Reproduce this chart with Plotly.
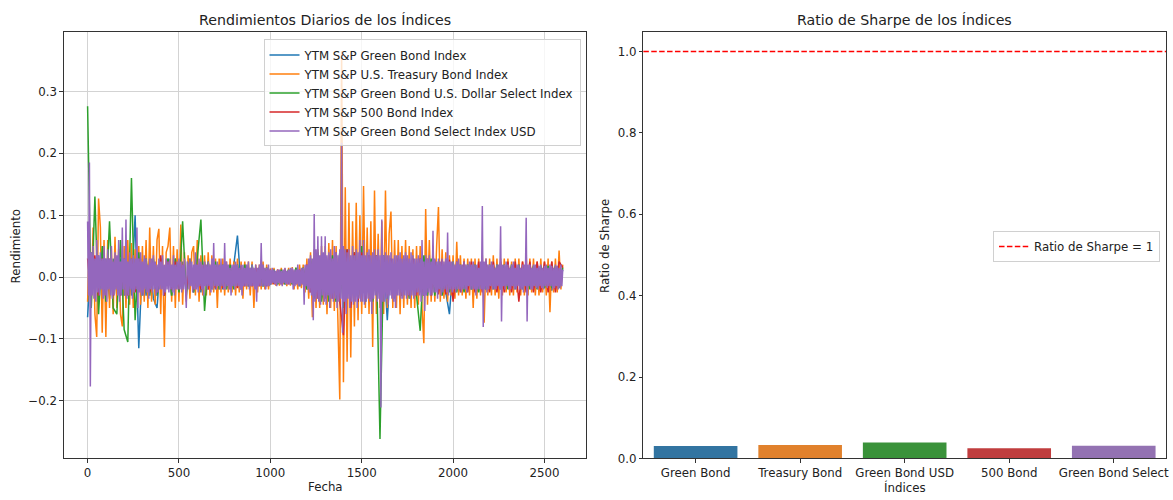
import plotly.graph_objects as go

# ---------------- data ----------------
# day index (sampled) for the daily-return series
DAYS_DENSE = list(range(0, 2601, 5))     # purple
DAYS_FINE = list(range(0, 2601, 10))     # orange
DAYS_COARSE = list(range(0, 2601, 20))   # blue, green, red

SERIES_NAMES = [
    "YTM S&P Green Bond Index",
    "YTM S&P U.S. Treasury Bond Index",
    "YTM S&P Green Bond U.S. Dollar Select Index",
    "YTM S&P 500 Bond Index",
    "YTM S&P Green Bond Select Index USD",
]
SERIES_COLORS = ["#1f77b4", "#ff7f0e", "#2ca02c", "#d62728", "#9467bd"]

green_bond = [
    -0.065, 0.04, -0.03, 0.035, -0.03, 0.03, -0.035, 0.03, -0.03, 0.03,
    -0.03, 0.03, -0.03, 0.1, -0.115, 0.03, -0.03, 0.03, -0.035, -0.05,
    0.03, -0.03, 0.03, -0.03, 0.03, -0.025, 0.025, -0.025, 0.025, -0.025,
    0.025, -0.025, 0.025, -0.02, 0.02, -0.02, 0.02, -0.02, 0.02, -0.02,
    0.02, 0.067, -0.02, 0.02, -0.015, 0.015, -0.015, 0.015, -0.015, 0.015,
    -0.012, 0.012, -0.012, 0.012, -0.012, 0.012, -0.012, 0.012, -0.012, 0.015,
    -0.02, 0.025, -0.03, 0.035, -0.035, 0.035, -0.035, 0.035, -0.04, 0.04,
    -0.045, 0.04, -0.04, 0.035, -0.04, 0.035, -0.035, 0.035, -0.035, 0.035,
    -0.03, 0.03, -0.07, 0.03, -0.03, 0.03, -0.03, 0.025, -0.03, 0.025,
    -0.025, 0.025, -0.025, 0.025, -0.025, 0.025, -0.025, 0.025, -0.025, -0.06,
    0.02, -0.02, 0.02, -0.02, 0.02, -0.02, 0.02, -0.02, 0.02, -0.02,
    0.018, -0.018, 0.018, -0.018, 0.018, -0.018, 0.018, -0.018, 0.018, -0.018,
    0.018, -0.018, 0.018, -0.018, 0.018, -0.018, 0.015, -0.022, 0.015, -0.015,
    0.012,
]

treasury_bond = [
    -0.04, 0.06, -0.05, 0.08, -0.06, -0.097, 0.127, 0.08, -0.09, 0.06,
    -0.097, 0.06, -0.05, 0.05, -0.06, 0.065, -0.05, 0.045, -0.06, -0.08,
    0.05, -0.05, 0.06, -0.045, 0.055, -0.05, 0.045, -0.04, 0.05, -0.045,
    0.05, -0.04, 0.06, -0.05, 0.08, -0.04, 0.05, -0.045, 0.06, 0.078,
    -0.06, 0.05, -0.113, 0.04, 0.05, 0.08, -0.04, 0.05, -0.05, 0.045,
    -0.04, 0.085, -0.045, 0.04, -0.04, 0.035, -0.035, 0.04, 0.05, -0.03,
    0.06, -0.04, 0.035, -0.03, 0.035, -0.03, 0.04, -0.03, 0.035, -0.025,
    0.03, -0.05, 0.03, -0.025, 0.03, -0.03, 0.025, -0.025, 0.03, -0.025,
    0.025, -0.03, 0.03, -0.025, 0.025, -0.035, 0.025, -0.02, 0.025, -0.03,
    0.025, -0.05, 0.02, -0.025, 0.02, -0.02, 0.025, -0.02, 0.02, -0.02,
    0.014, -0.012, 0.015, -0.014, 0.012, -0.014, 0.015, -0.012, 0.014, -0.015,
    0.015, -0.014, 0.016, -0.02, 0.015, -0.02, 0.02, -0.018, 0.02, -0.025,
    0.03, -0.035, 0.04, -0.065, 0.045, -0.05, 0.045, -0.05, 0.05, -0.045,
    0.05, -0.06, 0.055, -0.05, 0.06, -0.055, 0.05, -0.06, -0.198, 0.365,
    -0.17, 0.145, -0.137, 0.12, -0.13, 0.09, -0.08, 0.12, -0.07, 0.1,
    -0.06, 0.147, -0.05, 0.08, -0.06, 0.09, -0.113, 0.14, -0.06, 0.07,
    -0.05, 0.09, -0.06, 0.14, -0.05, 0.07, 0.106, -0.05, 0.06, -0.05,
    0.06, -0.06, 0.05, -0.05, 0.06, -0.045, 0.05, -0.05, 0.045, -0.05,
    0.05, -0.045, 0.05, -0.05, -0.107, 0.11, -0.045, 0.06, -0.04, 0.05,
    -0.04, 0.05, 0.113, -0.04, 0.045, -0.035, 0.04, -0.04, 0.035, -0.03,
    0.035, -0.035, 0.057, -0.03, 0.035, -0.03, 0.03, -0.035, 0.03, -0.03,
    0.03, -0.05, 0.03, -0.035, 0.03, -0.03, 0.035, -0.074, 0.03, -0.03,
    0.03, -0.03, 0.035, -0.03, 0.03, -0.035, 0.03, -0.03, 0.03, -0.025,
    0.03, -0.03, 0.025, -0.03, 0.03, -0.025, 0.03, -0.03, 0.025, -0.03,
    0.035, -0.03, 0.03, -0.025, 0.03, -0.03, 0.025, -0.03, 0.03, -0.025,
    0.025, -0.03, 0.03, -0.057, 0.025, -0.025, 0.03, -0.025, 0.043, -0.02,
    0.02,
]

green_bond_usd = [
    0.276, -0.05, 0.13, -0.06, 0.05, -0.04, 0.09, -0.05, -0.06, 0.06,
    -0.085, -0.105, 0.16, -0.07, 0.04, -0.03, 0.03, -0.03, 0.03, -0.03,
    0.03, -0.03, 0.03, -0.03, 0.03, -0.025, 0.09, -0.03, 0.03, -0.025,
    0.03, 0.093, -0.055, 0.025, -0.02, 0.025, -0.02, 0.02, -0.02, 0.02,
    -0.02, 0.02, -0.02, 0.02, -0.015, 0.02, -0.015, 0.015, -0.015, 0.015,
    -0.012, 0.012, -0.012, 0.012, -0.012, 0.012, -0.012, 0.015, -0.015, 0.015,
    -0.02, 0.03, -0.035, 0.04, -0.04, 0.035, -0.04, 0.035, -0.04, 0.04,
    -0.05, 0.045, -0.04, 0.04, -0.04, 0.05, -0.04, 0.035, -0.04, 0.035,
    -0.262, 0.035, -0.035, 0.03, -0.035, 0.03, -0.03, 0.03, -0.035, 0.03,
    -0.03, -0.087, 0.035, -0.03, 0.03, -0.03, 0.025, -0.03, 0.025, -0.025,
    0.025, -0.025, 0.02, -0.025, 0.02, -0.02, 0.02, -0.025, 0.02, -0.02,
    0.02, -0.02, 0.02, -0.02, 0.02, -0.02, 0.02, -0.02, 0.02, -0.02,
    0.02, -0.02, 0.018, -0.02, 0.018, -0.018, 0.018, -0.018, 0.018, -0.018,
    0.015,
]

bond_500 = [
    0.03, -0.03, 0.035, -0.03, 0.03, -0.03, 0.03, -0.03, 0.03, -0.03,
    0.03, -0.03, 0.03, -0.025, 0.03, -0.025, 0.025, -0.025, 0.025, -0.025,
    0.035, -0.03, 0.025, -0.02, 0.025, -0.02, 0.02, -0.02, 0.02, -0.02,
    0.02, -0.02, 0.02, -0.02, 0.02, -0.018, 0.018, -0.018, 0.018, -0.018,
    0.018, -0.018, 0.018, -0.015, 0.015, -0.015, 0.015, -0.015, 0.015, -0.015,
    0.012, -0.012, 0.012, -0.012, 0.012, -0.012, 0.012, -0.012, 0.012, -0.012,
    0.02, -0.025, 0.03, -0.035, 0.035, -0.035, 0.035, -0.035, 0.04, -0.04,
    -0.094, 0.045, -0.05, 0.04, -0.04, 0.04, -0.035, 0.035, -0.035, 0.035,
    -0.035, 0.03, -0.03, 0.03, -0.03, 0.03, -0.03, 0.03, -0.03, 0.03,
    -0.03, 0.03, -0.03, 0.03, -0.03, 0.028, -0.028, 0.028, -0.028, 0.028,
    -0.04, 0.025, -0.025, 0.025, -0.025, 0.025, -0.025, 0.025, -0.025, 0.025,
    -0.025, 0.025, -0.025, 0.025, -0.025, 0.025, -0.025, 0.025, -0.04, 0.025,
    -0.025, 0.025, -0.025, 0.025, -0.025, 0.025, -0.025, 0.025, -0.025, 0.025,
    0.015,
]

green_bond_select = [
    0.09, -0.03, 0.185, -0.177, 0.04, -0.03, 0.05, -0.035, 0.03, -0.04,
    0.06, -0.025, 0.035, -0.03, 0.04, -0.02, 0.03, -0.035, 0.05, -0.03,
    0.03, -0.04, 0.045, -0.02, 0.03, -0.03, 0.05, -0.035, 0.025, -0.03,
    0.04, -0.02, 0.035, -0.03, 0.06, -0.04, 0.025, -0.03, 0.08, -0.02,
    0.03, -0.03, 0.093, -0.035, 0.025, -0.03, 0.04, -0.02, 0.03, -0.035,
    0.035, -0.025, 0.03, -0.02, 0.08, -0.05, 0.03, -0.025, 0.04, -0.03,
    0.025, -0.03, 0.035, -0.02, 0.03, -0.025, 0.02, -0.035, 0.03, -0.02,
    0.03, -0.025, 0.035, -0.02, 0.025, -0.03, 0.02, -0.025, 0.03, -0.02,
    0.025, -0.02, 0.035, -0.03, 0.02, -0.025, 0.03, -0.02, 0.025, -0.025,
    0.03, -0.02, 0.02, -0.025, 0.035, -0.03, 0.02, -0.02, 0.025, -0.02,
    0.03, -0.02, 0.025, -0.025, 0.02, -0.02, 0.03, -0.025, -0.05, 0.025,
    0.02, -0.02, 0.03, -0.015, 0.025, -0.025, 0.02, -0.02, 0.04, -0.02,
    0.02, -0.025, 0.03, -0.015, 0.025, -0.02, 0.02, -0.03, 0.025, -0.015,
    0.02, -0.02, 0.025, -0.015, 0.02, -0.025, 0.03, -0.02, 0.055, -0.015,
    0.02, -0.02, 0.025, -0.015, 0.02, -0.02, 0.03, -0.015, 0.02, -0.02,
    0.055, -0.02, 0.025, -0.015, 0.02, -0.02, 0.015, -0.03, 0.02, -0.015,
    0.02, -0.02, 0.025, -0.015, 0.02, -0.015, 0.015, -0.02, 0.02, -0.03,
    0.02, -0.015, 0.015, -0.015, 0.02, -0.015, 0.025, -0.02, 0.015, -0.015,
    0.02, -0.015, 0.015, -0.02, 0.02, -0.04, 0.015, -0.015, 0.02, -0.015,
    0.055, -0.015, 0.02, -0.015, 0.015, -0.02, 0.015, -0.015, 0.02, -0.015,
    0.012, -0.012, 0.015, -0.01, 0.012, -0.012, 0.01, -0.015, 0.012, -0.01,
    0.012, -0.012, 0.01, -0.015, 0.012, -0.01, 0.015, -0.012, 0.01, -0.012,
    0.012, -0.012, 0.015, -0.01, 0.015, -0.02, 0.012, -0.015, 0.012, -0.012,
    0.02, -0.015, 0.012, -0.015, 0.015, -0.012, 0.015, -0.045, 0.02, -0.015,
    0.02, -0.02, 0.03, -0.025, 0.035, -0.03, 0.03, -0.07, 0.102, -0.04,
    0.045, -0.035, 0.066, -0.04, 0.035, -0.045, 0.066, -0.03, 0.04, -0.04,
    0.066, -0.045, 0.035, -0.03, 0.04, -0.05, 0.045, -0.035, 0.03, -0.04,
    0.05, -0.035, 0.04, -0.05, 0.035, -0.04, 0.045, -0.035, 0.217, -0.09,
    0.05, -0.04, 0.045, -0.06, 0.04, -0.035, 0.045, -0.05, 0.035, -0.04,
    0.05, -0.045, 0.035, -0.04, 0.045, -0.05, 0.04, -0.035, 0.06, -0.04,
    0.035, -0.04, 0.06, -0.045, 0.035, -0.04, 0.04, -0.035, 0.045, -0.04,
    0.035, -0.06, 0.04, -0.035, 0.045, -0.03, 0.035, -0.04, 0.045, -0.035,
    0.035, -0.211, 0.093, -0.04, 0.035, -0.04, 0.04, -0.035, 0.035, -0.045,
    0.035, -0.03, 0.04, -0.035, 0.03, -0.04, 0.035, -0.05, 0.035, -0.03,
    0.035, -0.03, 0.04, -0.035, 0.03, -0.035, 0.035, -0.03, 0.04, -0.035,
    0.035, -0.03, 0.03, -0.035, 0.04, -0.03, 0.035, -0.035, 0.03, -0.03,
    0.03, -0.025, 0.035, -0.03, 0.03, -0.04, 0.06, -0.03, 0.025, -0.055,
    0.035, -0.03, 0.03, -0.025, 0.035, -0.03, 0.025, -0.03, 0.075, -0.025,
    0.03, -0.025, 0.025, -0.035, 0.03, -0.02, 0.025, -0.03, 0.03, -0.025,
    0.025, -0.02, 0.03, -0.025, 0.072, -0.03, 0.025, -0.02, 0.025, -0.025,
    0.025, -0.02, 0.02, -0.025, 0.025, -0.02, 0.03, -0.02, 0.02, -0.025,
    0.02, -0.02, 0.025, -0.02, 0.02, -0.025, 0.02, -0.015, 0.025, -0.02,
    0.02, -0.02, 0.025, -0.02, 0.02, -0.03, 0.02, -0.02, 0.015, -0.02,
    0.025, -0.02, 0.115, -0.081, 0.025, -0.02, 0.03, -0.025, 0.02, -0.02,
    0.02, -0.015, 0.025, -0.02, 0.02, -0.02, 0.015, -0.02, 0.02, -0.015,
    0.02, -0.02, 0.082, -0.072, 0.02, -0.015, 0.02, -0.02, 0.025, -0.015,
    0.02, -0.02, 0.015, -0.02, 0.02, -0.015, 0.025, -0.02, 0.015, -0.02,
    0.02, -0.015, 0.02, -0.02, 0.015, -0.02, 0.02, -0.025, 0.02, -0.015,
    0.096, -0.072, 0.02, -0.015, 0.02, -0.02, 0.015, -0.02, 0.02, -0.015,
    0.02, -0.018, 0.015, -0.02, 0.018, -0.015, 0.02, -0.018, 0.015, -0.02,
    0.018, -0.015, 0.02, -0.018, 0.015, -0.015, 0.02, -0.015, 0.018, -0.02,
    0.015, -0.018, 0.02, -0.015, 0.018, -0.02, 0.015, -0.018, 0.02, -0.015,
    0.012,
]

SERIES_VALUES = [green_bond, treasury_bond, green_bond_usd, bond_500, green_bond_select]
SERIES_DAYS = [DAYS_COARSE, DAYS_FINE, DAYS_COARSE, DAYS_COARSE, DAYS_DENSE]

# Sharpe ratios
SHARPE_LABELS = ["Green Bond", "Treasury Bond", "Green Bond USD", "500 Bond", "Green Bond Select"]
SHARPE_VALUES = [0.031, 0.033, 0.039, 0.025, 0.0315]
SHARPE_COLORS = ["#3274a1", "#e1812c", "#3a923a", "#c03d3e", "#9372b2"]
SHARPE_REF = 1.0

# ---------------- figure ----------------
W, H = 1173, 500
FONT = "DejaVu Sans"
TXT = "#222222"
FS = 11.8
fig = go.Figure()

for name, color, xs, ys in zip(SERIES_NAMES, SERIES_COLORS, SERIES_DAYS, SERIES_VALUES):
    fig.add_trace(go.Scatter(x=xs[:len(ys)], y=ys, mode="lines", name=name,
                             line=dict(color=color, width=1.5),
                             xaxis="x", yaxis="y", legend="legend"))

fig.add_trace(go.Bar(x=SHARPE_LABELS, y=SHARPE_VALUES, marker=dict(color=SHARPE_COLORS, line=dict(width=0)),
                     width=0.8, showlegend=False, xaxis="x2", yaxis="y2"))

fig.add_trace(go.Scatter(x=[None], y=[None], mode="lines", name=f"Ratio de Sharpe = {SHARPE_REF:g}",
                         line=dict(color="red", width=1.5, dash="5.5px,2.4px"),
                         xaxis="x2", yaxis="y2", legend="legend2"))

fig.add_shape(type="line", xref="x2 domain", yref="y2", x0=0, x1=1, y0=SHARPE_REF, y1=SHARPE_REF,
              line=dict(color="red", width=1.5, dash="5.5px,2.4px"))

top, bottom = 32.3, 465
ydom = [1 - bottom / H, 1 - top / H]
ax_common = dict(showline=True, linecolor="#333333", linewidth=1, mirror=True,
                 ticks="outside", ticklen=3.5, tickwidth=0.8, tickcolor="#333333",
                 tickfont=dict(family=FONT, size=FS, color=TXT), zeroline=False)

fig.update_layout(
    width=W, height=H, margin=dict(l=0, r=0, t=0, b=0),
    paper_bgcolor="white", plot_bgcolor="white",
    font=dict(family=FONT, size=FS, color=TXT),
    xaxis=dict(domain=[64 / W, 588 / W], range=[-130, 2730], tickvals=[0, 500, 1000, 1500, 2000, 2500],
               showgrid=True, gridcolor="#d3d3d3", gridwidth=1, **ax_common),
    yaxis=dict(domain=ydom, range=[-0.2935, 0.3965], tickvals=[-0.2, -0.1, 0.0, 0.1, 0.2, 0.3],
               tickformat=".1f", showgrid=True, gridcolor="#d3d3d3", gridwidth=1, **ax_common),
    xaxis2=dict(domain=[645 / W, 1169 / W], range=[-0.5, 4.5], showgrid=False, type="category",
                anchor="y2", **ax_common),
    yaxis2=dict(domain=ydom, range=[0, 1.0485], tickvals=[0.0, 0.2, 0.4, 0.6, 0.8, 1.0],
                tickformat=".1f", showgrid=False, anchor="x2", **ax_common),
    legend=dict(x=582 / W, y=1 - 40 / H, xanchor="right", yanchor="top",
                bgcolor="rgba(255,255,255,0.8)", bordercolor="#d0d0d0", borderwidth=1,
                font=dict(family=FONT, size=FS, color=TXT), tracegroupgap=0),
    legend2=dict(x=1163 / W, y=1 - 250 / H, xanchor="right", yanchor="middle",
                 bgcolor="rgba(255,255,255,0.8)", bordercolor="#d0d0d0", borderwidth=1,
                 font=dict(family=FONT, size=FS, color=TXT)),
)

ann = [
    ("Rendimientos Diarios de los Índices", 326, 20, 14.2, 0),
    ("Ratio de Sharpe de los Índices", 907, 20, 14.2, 0),
    ("Fecha", 326, 494, FS, 0),
    ("Índices", 907, 494, FS, 0),
    ("Rendimiento", 16, 249, FS, -90),
    ("Ratio de Sharpe", 606, 249, FS, -90),
]
for text, px, py, size, angle in ann:
    fig.add_annotation(xref="paper", yref="paper", showarrow=False, xanchor="center", yanchor="middle",
                       font=dict(family=FONT, size=size, color=TXT),
                       text=text, x=px / W, y=1 - py / H, textangle=angle)

fig.write_html("out.html", config={"displayModeBar": False},
               post_script="document.body.style.margin='0px';document.body.style.overflow='hidden';")
